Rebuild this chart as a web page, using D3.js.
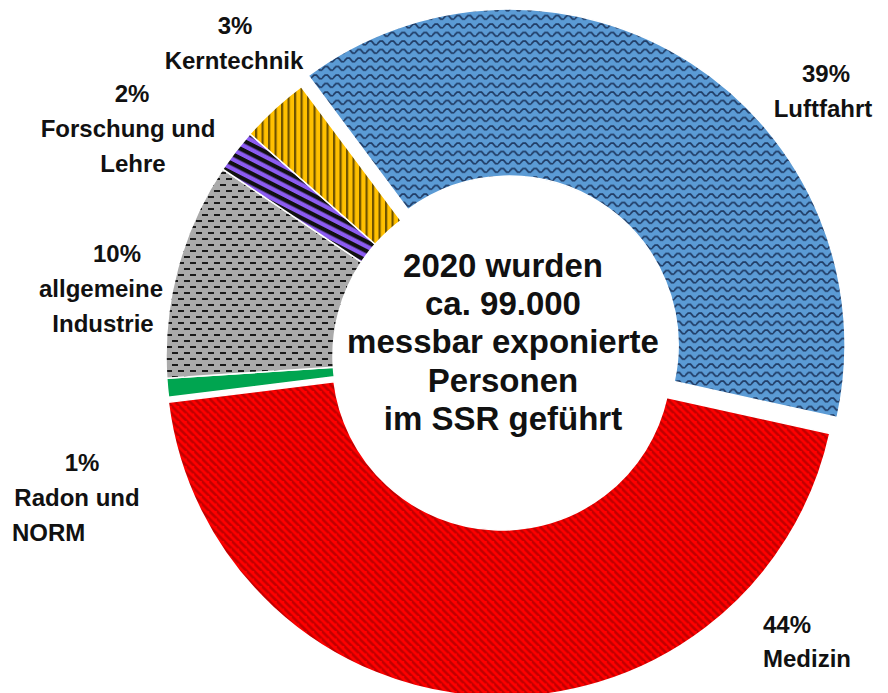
<!DOCTYPE html>
<html>
<head>
<meta charset="utf-8">
<script src="https://cdn.jsdelivr.net/npm/d3@7"></script>
<style>
  html, body { margin: 0; padding: 0; background: #fff; }
  svg { display: block; }
  text { font-family: "Liberation Sans", Arial, sans-serif; font-weight: 700; fill: #111; }
</style>
</head>
<body>
<svg id="chart" width="888" height="693"></svg>
<script>
// ---- data ----
const categories = ["Luftfahrt", "Medizin", "Radon und NORM", "allgemeine Industrie", "Forschung und Lehre", "Kerntechnik"];
const shares = [38.5, 44.4, 0.9, 10.4, 2.1, 3.3];
const percentLabels = ["39%", "44%", "1%", "10%", "2%", "3%"];
const nameLines = [["Luftfahrt"], ["Medizin"], ["Radon und", "NORM"], ["allgemeine", "Industrie"], ["Forschung und", "Lehre"], ["Kerntechnik"]];
const centerLines = ["2020 wurden", "ca. 99.000", "messbar exponierte", "Personen", "im SSR geführt"];

// ---- layout / style ----
const W = 888, H = 693;
const cx = 502, cy = 356;
const outerR = 336, innerR = 169;
const startDeg = -36.7;
const explode = { "Luftfahrt": 13, "Medizin": 5 };
const fills = ["url(#pBlue)", "url(#pRed)", "#00A550", "url(#pGrey)", "url(#pPurple)", "url(#pYellow)"];
// label placement: x anchor, baseline, text-anchor per line
const labelLayout = [
  { lines: [[826, 82, "middle"], [823, 117, "middle"]] },
  { lines: [[763, 633, "start"], [763, 667, "start"]] },
  { lines: [[82, 471, "middle"], [77, 506, "middle"], [12, 541, "start"]] },
  { lines: [[117, 262, "middle"], [101, 297, "middle"], [103, 332, "middle"]] },
  { lines: [[132, 102, "middle"], [128, 137, "middle"], [133, 172, "middle"]] },
  { lines: [[235, 34, "middle"], [234, 69, "middle"]] }
];

const svg = d3.select("#chart");
const defs = svg.append("defs");

// Blue wave pattern
const pb = defs.append("pattern").attr("id", "pBlue").attr("patternUnits", "userSpaceOnUse")
  .attr("width", 11).attr("height", 8.5);
pb.append("rect").attr("width", 11).attr("height", 8.5).attr("fill", "#5B9BD5");
pb.append("path").attr("d", "M-0.5,5.5 L3,2 L5.5,2 L8.5,5.5 L11.5,5.5").attr("fill", "none")
  .attr("stroke", "#1f3a63").attr("stroke-width", 1.7);

// Red diagonal stripes
const pr = defs.append("pattern").attr("id", "pRed").attr("patternUnits", "userSpaceOnUse")
  .attr("width", 7.5).attr("height", 7.5);
pr.append("rect").attr("width", 7.5).attr("height", 7.5).attr("fill", "#FF0000");
pr.append("path").attr("d", "M-1,-1 L8.5,8.5 M-5,2.5 L2.5,10 M5,-5 L12.5,2.5").attr("stroke", "#C00000").attr("stroke-width", 2.6);

// Grey dashes
const pg = defs.append("pattern").attr("id", "pGrey").attr("patternUnits", "userSpaceOnUse")
  .attr("width", 12).attr("height", 12);
pg.append("rect").attr("width", 12).attr("height", 12).attr("fill", "#AAAAAA");
pg.append("rect").attr("x", 0).attr("y", 2).attr("width", 6).attr("height", 2).attr("fill", "#1a1a1a");
pg.append("rect").attr("x", 6).attr("y", 8).attr("width", 6).attr("height", 2).attr("fill", "#1a1a1a");

// Purple with black stripes
const pp = defs.append("pattern").attr("id", "pPurple").attr("patternUnits", "userSpaceOnUse")
  .attr("width", 20).attr("height", 8.5).attr("patternTransform", "rotate(27)");
pp.append("rect").attr("width", 20).attr("height", 8.5).attr("fill", "#8C5CF2");
pp.append("rect").attr("y", 0).attr("width", 20).attr("height", 4.2).attr("fill", "#111");

// Yellow with dark vertical stripes
const py = defs.append("pattern").attr("id", "pYellow").attr("patternUnits", "userSpaceOnUse")
  .attr("width", 6.5).attr("height", 20);
py.append("rect").attr("width", 6.5).attr("height", 20).attr("fill", "#FFC000");
py.append("rect").attr("x", 0).attr("width", 2.2).attr("height", 20).attr("fill", "#6e5200");

// ---- pie ----
const a0 = startDeg * Math.PI / 180;
const pie = d3.pie().sort(null).startAngle(a0).endAngle(a0 + 2 * Math.PI);
const arcs = pie(shares);
const arc = d3.arc().innerRadius(innerR).outerRadius(outerR);

const g = svg.append("g").attr("transform", `translate(${cx},${cy})`);
g.selectAll("path.slice").data(arcs).join("path")
  .attr("class", "slice")
  .attr("d", arc)
  .attr("fill", (d, i) => fills[i])
  .attr("stroke", "#fff").attr("stroke-width", 1.5)
  .attr("transform", (d, i) => {
    const e = explode[categories[i]] || 0;
    const m = (d.startAngle + d.endAngle) / 2;
    return `translate(${e * Math.sin(m)},${-e * Math.cos(m)})`;
  });

// ---- labels (one text element per label, lines as tspans) ----
const lg = svg.append("g");
arcs.forEach((d, i) => {
  const lines = [percentLabels[i]].concat(nameLines[i]);
  const txt = lg.append("text").style("font-size", "24px");
  lines.forEach((t, j) => {
    const [x, y, anchor] = labelLayout[i].lines[j];
    txt.append("tspan").attr("x", x).attr("y", y).attr("text-anchor", anchor).text(t);
  });
});

// ---- center text ----
const ct = svg.append("text").style("font-size", "33px").attr("text-anchor", "middle");
centerLines.forEach((t, j) => {
  ct.append("tspan").attr("x", 503).attr("y", 277 + j * 38.2).text(t);
});
</script>
</body>
</html>
